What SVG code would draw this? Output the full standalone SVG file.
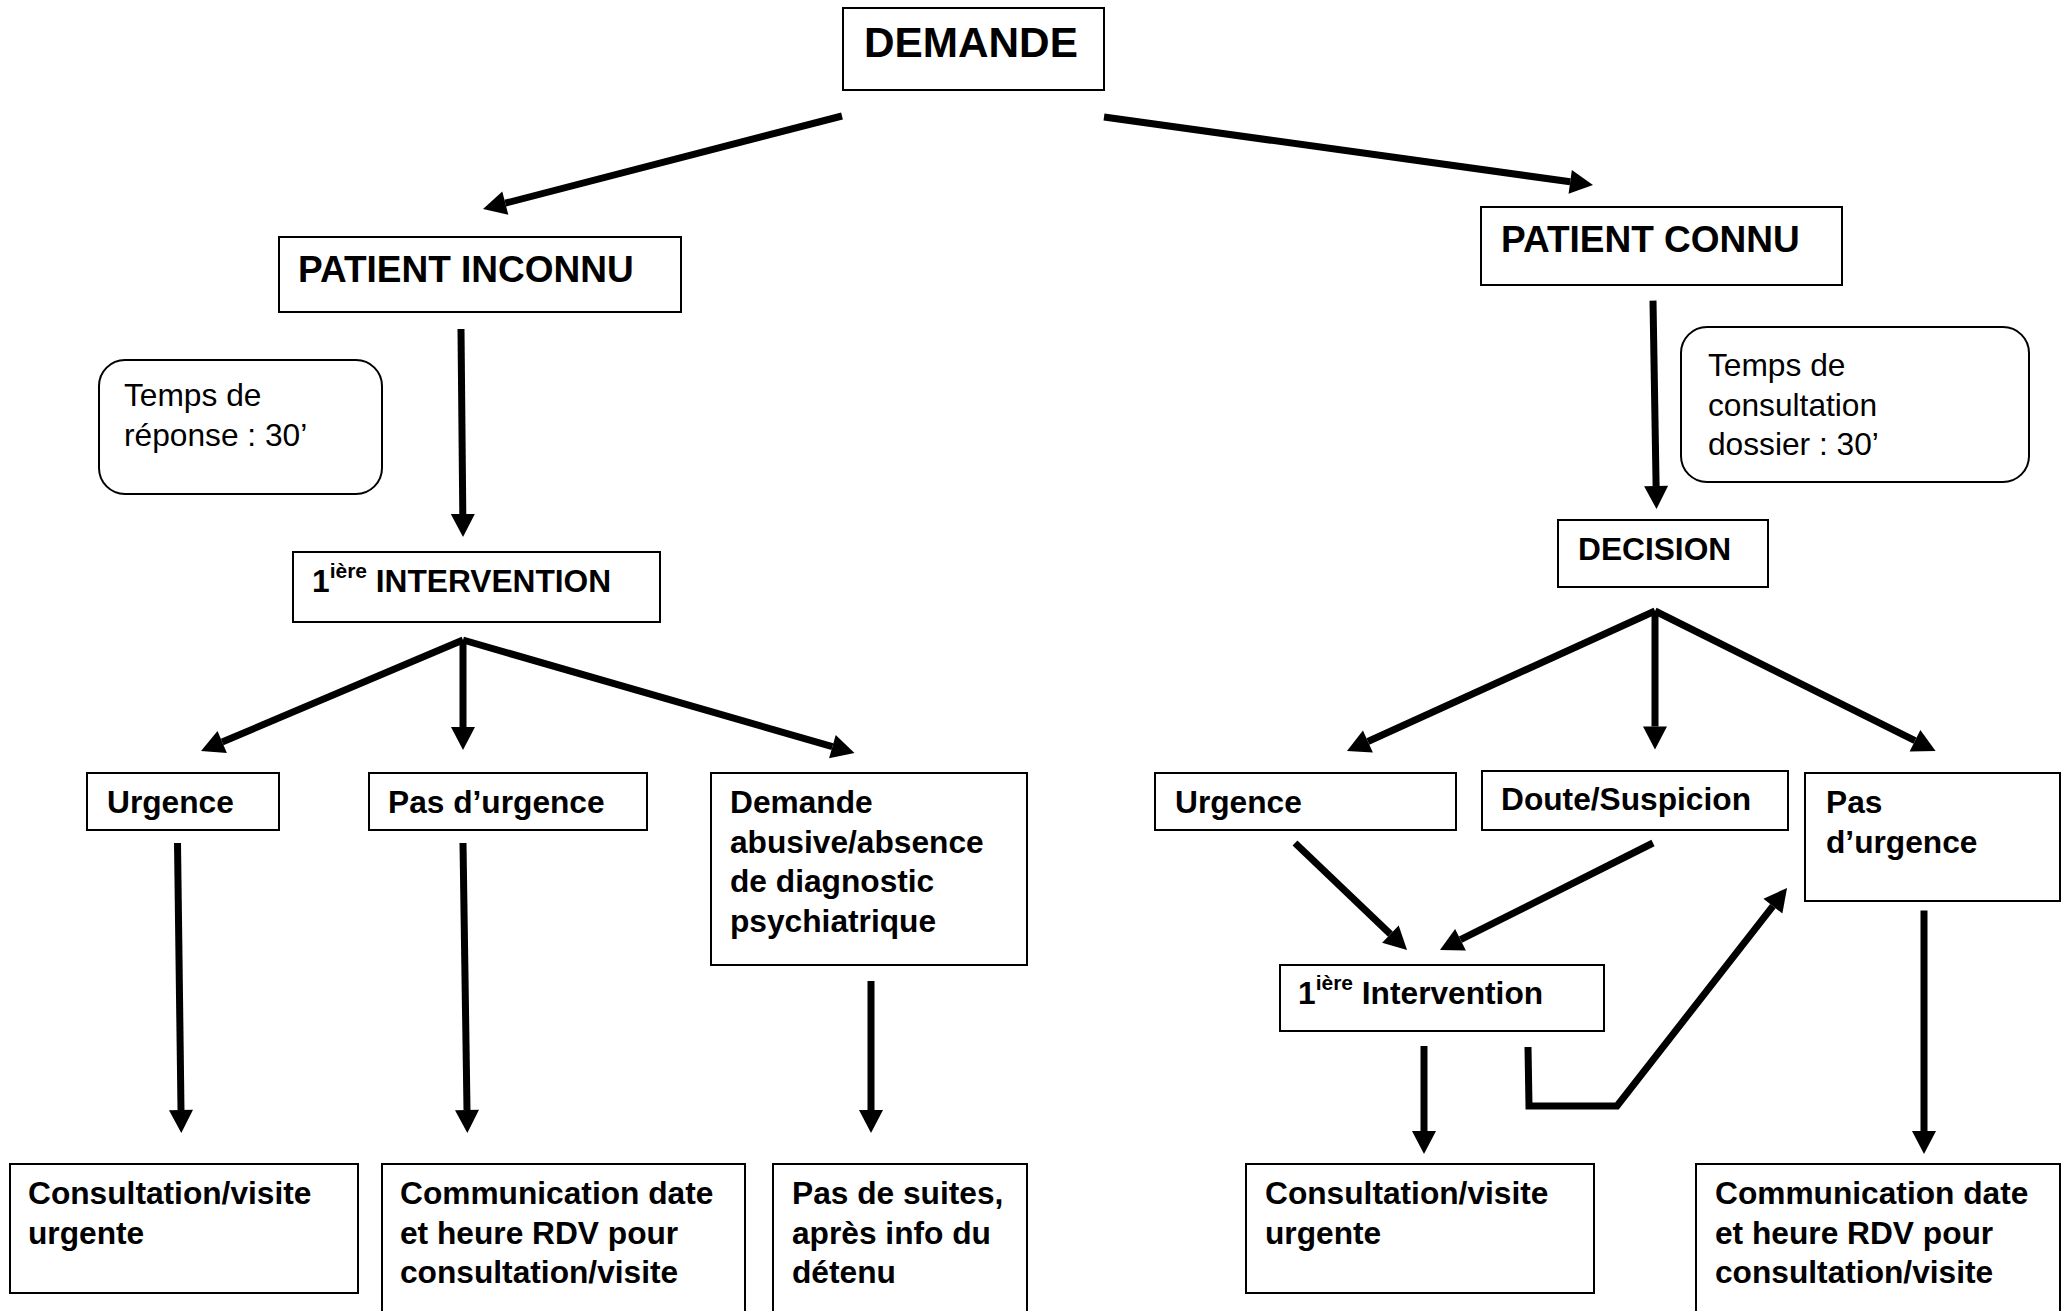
<svg xmlns="http://www.w3.org/2000/svg" width="2069" height="1311" viewBox="0 0 2069 1311">
<style>
.box{fill:#fff;stroke:#000;stroke-width:2}
.rbox{fill:#fff;stroke:#000;stroke-width:2}
.t{font-family:"Liberation Sans",Arial,sans-serif;font-weight:bold;font-size:31.7px;fill:#000}
.r{font-family:"Liberation Sans",Arial,sans-serif;font-weight:normal;font-size:31.7px;fill:#000}
.sup{font-size:21px}
.c{fill:none;stroke:#000;stroke-width:7;stroke-linejoin:miter}
</style>
<defs>
<marker id="ah" markerUnits="userSpaceOnUse" markerWidth="24" markerHeight="24" refX="0" refY="12" orient="auto" overflow="visible">
<path d="M0,0 L23,12 L0,24 z" fill="#000"/>
</marker>
</defs>
<rect width="2069" height="1311" fill="#fff"/>

<g id="connectors">
<path class="c" d="M842,116 L505.3,203.2" marker-end="url(#ah)"/>
<path class="c" d="M1104,117 L1570.2,181.8" marker-end="url(#ah)"/>
<path class="c" d="M461,329 L462.8,514" marker-end="url(#ah)"/>
<path class="c" d="M1653,300.6 L1656.1,486" marker-end="url(#ah)"/>
<path class="c" d="M463,640 L222.2,742" marker-end="url(#ah)"/>
<path class="c" d="M463,640 L463,727" marker-end="url(#ah)"/>
<path class="c" d="M463,640 L832.4,746.6" marker-end="url(#ah)"/>
<path class="c" d="M1655,611 L1367.9,741.5" marker-end="url(#ah)"/>
<path class="c" d="M1655,611 L1655,726.5" marker-end="url(#ah)"/>
<path class="c" d="M1655,611 L1915,740.7" marker-end="url(#ah)"/>
<path class="c" d="M177.5,843 L181,1110" marker-end="url(#ah)"/>
<path class="c" d="M463,843 L467,1110" marker-end="url(#ah)"/>
<path class="c" d="M871,981 L871,1110" marker-end="url(#ah)"/>
<path class="c" d="M1295,843 L1390.4,934.1" marker-end="url(#ah)"/>
<path class="c" d="M1653,843 L1460.5,939.7" marker-end="url(#ah)"/>
<path class="c" d="M1424,1046 L1424,1131" marker-end="url(#ah)"/>
<path class="c" d="M1528,1047 L1529,1106 L1617,1106 L1772.9,906.1" marker-end="url(#ah)"/>
<path class="c" d="M1924,910.5 L1924,1131" marker-end="url(#ah)"/>
</g>

<g id="demande">
<rect class="box" x="843" y="8" width="261" height="82"/>
<text class="t" x="864" y="57" style="font-size:42.3px">DEMANDE</text>
</g>

<g id="patient-inconnu">
<rect class="box" x="279" y="237" width="402" height="75"/>
<text class="t" x="298" y="282" style="font-size:37px">PATIENT INCONNU</text>
</g>

<g id="patient-connu">
<rect class="box" x="1481" y="207" width="361" height="78"/>
<text class="t" x="1501" y="252" style="font-size:37px">PATIENT CONNU</text>
</g>

<g id="temps-reponse">
<rect class="rbox" x="99" y="360" width="283" height="134" rx="26" ry="26"/>
<text class="r" x="124" y="406">Temps de</text>
<text class="r" x="124" y="446">réponse : 30’</text>
</g>

<g id="temps-consultation">
<rect class="rbox" x="1681" y="327" width="348" height="155" rx="26" ry="26"/>
<text class="r" x="1708" y="376">Temps de</text>
<text class="r" x="1708" y="415.6">consultation</text>
<text class="r" x="1708" y="455.2">dossier : 30’</text>
</g>

<g id="decision">
<rect class="box" x="1558" y="520" width="210" height="67"/>
<text class="t" x="1578" y="560">DECISION</text>
</g>

<g id="intervention-left">
<rect class="box" x="293" y="552" width="367" height="70"/>
<text class="t" x="312" y="592">1<tspan class="sup" dy="-14">ière</tspan><tspan dy="14"> INTERVENTION</tspan></text>
</g>

<g id="urgence-left">
<rect class="box" x="87" y="773" width="192" height="57"/>
<text class="t" x="107" y="813">Urgence</text>
</g>

<g id="pas-urgence-left">
<rect class="box" x="369" y="773" width="278" height="57"/>
<text class="t" x="388" y="813">Pas d’urgence</text>
</g>

<g id="demande-abusive">
<rect class="box" x="711" y="773" width="316" height="192"/>
<text class="t" x="730" y="813">Demande</text>
<text class="t" x="730" y="852.6">abusive/absence</text>
<text class="t" x="730" y="892.2">de diagnostic</text>
<text class="t" x="730" y="931.8">psychiatrique</text>
</g>

<g id="consultation-left">
<rect class="box" x="10" y="1164" width="348" height="129"/>
<text class="t" x="28" y="1204">Consultation/visite</text>
<text class="t" x="28" y="1243.6">urgente</text>
</g>

<g id="communication-left">
<rect class="box" x="382" y="1164" width="363" height="160"/>
<text class="t" x="400" y="1204">Communication date</text>
<text class="t" x="400" y="1243.6">et heure RDV pour</text>
<text class="t" x="400" y="1283.2">consultation/visite</text>
</g>

<g id="pas-de-suites">
<rect class="box" x="773" y="1164" width="254" height="160"/>
<text class="t" x="792" y="1204">Pas de suites,</text>
<text class="t" x="792" y="1243.6">après info du</text>
<text class="t" x="792" y="1283.2">détenu</text>
</g>

<g id="urgence-right">
<rect class="box" x="1155" y="773" width="301" height="57"/>
<text class="t" x="1175" y="813">Urgence</text>
</g>

<g id="doute-suspicion">
<rect class="box" x="1482" y="771" width="306" height="59"/>
<text class="t" x="1501" y="810">Doute/Suspicion</text>
</g>

<g id="pas-urgence-right">
<rect class="box" x="1805" y="773" width="255" height="128"/>
<text class="t" x="1826" y="813">Pas</text>
<text class="t" x="1826" y="852.6">d’urgence</text>
</g>

<g id="intervention-right">
<rect class="box" x="1280" y="965" width="324" height="66"/>
<text class="t" x="1298" y="1004">1<tspan class="sup" dy="-14">ière</tspan><tspan dy="14"> Intervention</tspan></text>
</g>

<g id="consultation-right">
<rect class="box" x="1246" y="1164" width="348" height="129"/>
<text class="t" x="1265" y="1204">Consultation/visite</text>
<text class="t" x="1265" y="1243.6">urgente</text>
</g>

<g id="communication-right">
<rect class="box" x="1696" y="1164" width="364" height="160"/>
<text class="t" x="1715" y="1204">Communication date</text>
<text class="t" x="1715" y="1243.6">et heure RDV pour</text>
<text class="t" x="1715" y="1283.2">consultation/visite</text>
</g>
</svg>
